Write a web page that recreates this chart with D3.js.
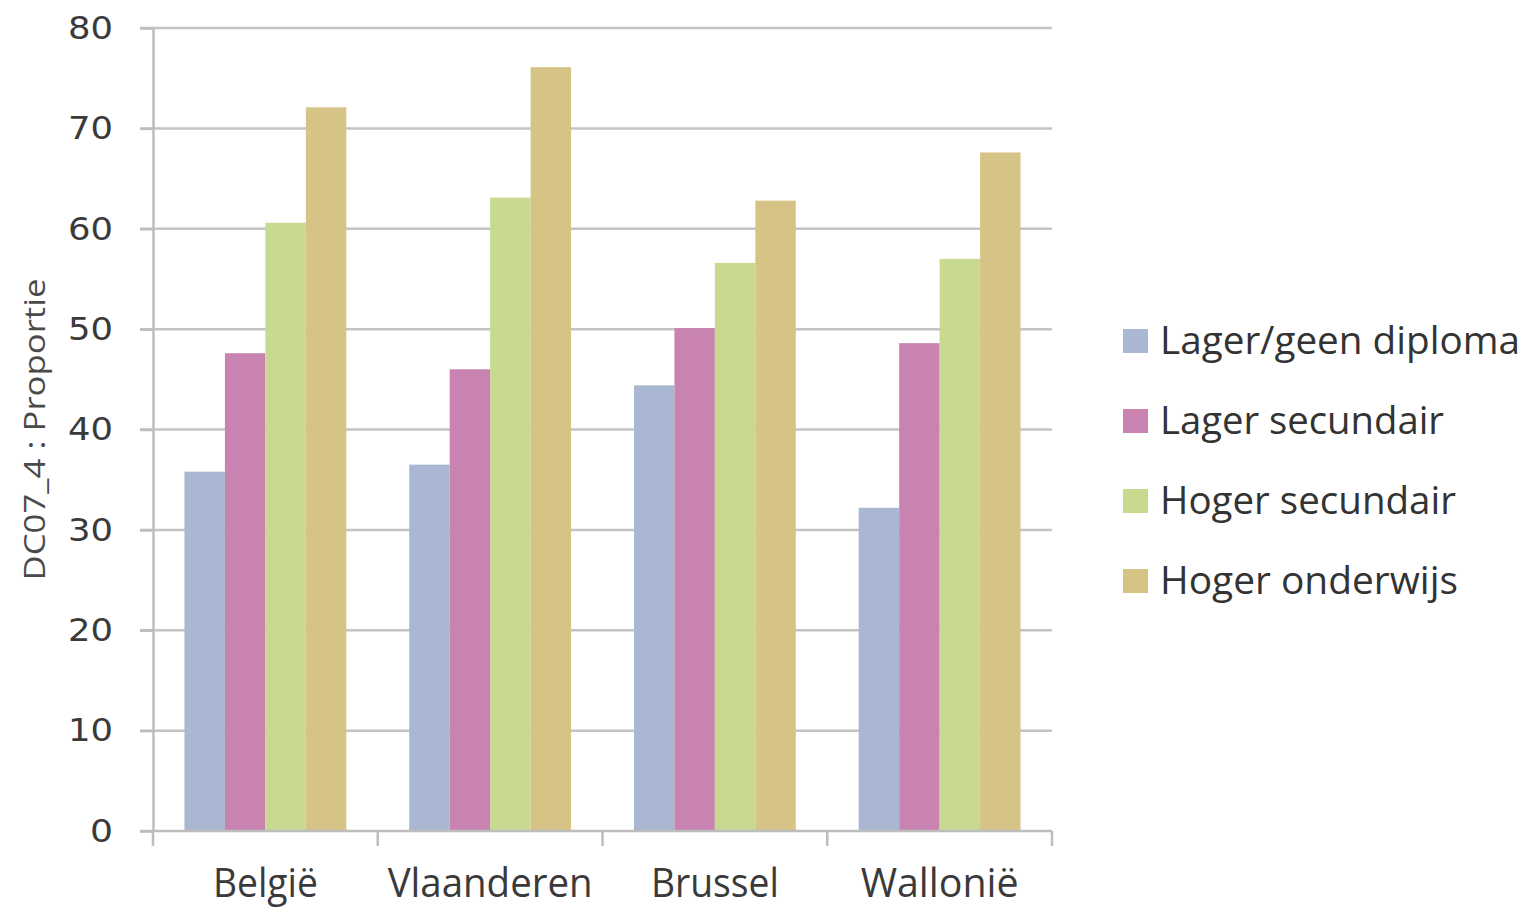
<!DOCTYPE html>
<html>
<head>
<meta charset="utf-8">
<script src="https://cdn.jsdelivr.net/npm/d3@7"></script>
<style>
  html, body { margin: 0; padding: 0; background: #ffffff; }
  svg { display: block; }
</style>
</head>
<body>
<svg id="chart" width="1529" height="911"></svg>
<script>
// Regions and education levels
const regions = ["België", "Vlaanderen", "Brussel", "Wallonië"];
const levels = ["Lager/geen diploma", "Lager secundair", "Hoger secundair", "Hoger onderwijs"];

// Proportion per education level, one value per region
const lagerGeen   = [35.8, 36.5, 44.4, 32.2];
const lagerSec    = [47.6, 46.0, 50.1, 48.6];
const hogerSec    = [60.6, 63.1, 56.6, 57.0];
const hogerOnd    = [72.1, 76.1, 62.8, 67.6];
const seriesValues = [lagerGeen, lagerSec, hogerSec, hogerOnd];

const levelColors = ["#a9b7d2", "#c983b0", "#c7da90", "#d6c487"];
const yTicks = [0, 10, 20, 30, 40, 50, 60, 70, 80];
const yTitle = "DC07_4 : Proportie";

const svg = d3.select("#chart");
const plotLeft = 153, plotRight = 1052, plotTop = 28, plotBottom = 831;

const x = d3.scaleBand().domain(regions).range([plotLeft, plotRight]).paddingInner(0.28).paddingOuter(0.14);
const xs = d3.scaleBand().domain(levels).range([0, x.bandwidth()]).padding(0);
const y = d3.scaleLinear().domain([0, 80]).range([plotBottom, plotTop]);
const color = d3.scaleOrdinal().domain(levels).range(levelColors);

// Horizontal gridlines
svg.append("g")
  .selectAll("line")
  .data(yTicks.filter(d => d > 0))
  .join("line")
  .attr("x1", plotLeft - 13).attr("x2", plotRight)
  .attr("y1", d => y(d)).attr("y2", d => y(d))
  .attr("stroke", "#c4c4c4").attr("stroke-width", 2.5);

// Y axis
const yAxis = svg.append("g")
  .attr("transform", `translate(${plotLeft},0)`)
  .call(d3.axisLeft(y).tickValues(yTicks).tickSize(13).tickPadding(27).tickSizeOuter(0));
yAxis.select(".domain").attr("stroke", "#bdbdbd").attr("stroke-width", 2.5);
yAxis.selectAll(".tick line").attr("stroke", "#bdbdbd").attr("stroke-width", 2.5);
yAxis.selectAll(".tick text")
  .attr("fill", "#3a3a3a")
  .attr("font-family", "DejaVu Sans, Verdana, sans-serif")
  .attr("font-size", 32)
  .attr("textLength", d => d === 0 ? 23 : 45)
  .attr("lengthAdjust", "spacingAndGlyphs");

// Bars
const groups = svg.append("g")
  .selectAll("g")
  .data(regions)
  .join("g")
  .attr("transform", d => `translate(${x(d)},0)`);

groups.selectAll("rect")
  .data((r, ri) => levels.map((l, li) => ({ level: l, value: seriesValues[li][ri] })))
  .join("rect")
  .attr("x", d => xs(d.level))
  .attr("width", xs.bandwidth())
  .attr("y", d => y(d.value))
  .attr("height", d => y(0) - y(d.value))
  .attr("fill", d => color(d.level));

// X axis with ticks between categories
const xTickPos = [plotLeft].concat(regions.map(r => x(r) + x.bandwidth() + x.step() * x.paddingInner() / 2));
xTickPos[xTickPos.length - 1] = plotRight;
const xAxis = svg.append("g");
xAxis.append("line")
  .attr("x1", plotLeft - 13).attr("x2", plotRight)
  .attr("y1", plotBottom).attr("y2", plotBottom)
  .attr("stroke", "#bdbdbd").attr("stroke-width", 2.5);
xAxis.selectAll("line.tick")
  .data(xTickPos)
  .join("line")
  .attr("class", "tick")
  .attr("x1", d => d).attr("x2", d => d)
  .attr("y1", plotBottom).attr("y2", plotBottom + 15)
  .attr("stroke", "#bdbdbd").attr("stroke-width", 2.5);

const catWidths = { "België": 105, "Vlaanderen": 205, "Brussel": 128, "Wallonië": 158 };
xAxis.selectAll("text")
  .data(regions)
  .join("text")
  .attr("x", d => x(d) + x.bandwidth() / 2)
  .attr("y", 897)
  .attr("text-anchor", "middle")
  .attr("fill", "#3a3a3a")
  .attr("font-family", "Open Sans, sans-serif")
  .attr("font-size", 40)
  .attr("textLength", d => catWidths[d])
  .attr("lengthAdjust", "spacingAndGlyphs")
  .text(d => d);

// Y axis title
svg.append("text")
  .attr("transform", `translate(45,${(plotTop + plotBottom) / 2}) rotate(-90)`)
  .attr("text-anchor", "middle")
  .attr("fill", "#4a4a4a")
  .attr("font-family", "Open Sans, sans-serif")
  .attr("font-size", 29)
  .attr("textLength", 302)
  .attr("lengthAdjust", "spacingAndGlyphs")
  .text(yTitle);

// Legend
const legendWidths = [360, 284, 296, 298];
const legend = svg.append("g")
  .selectAll("g")
  .data(levels)
  .join("g")
  .attr("transform", (d, i) => `translate(1123,${341 + i * 80})`);
legend.append("rect")
  .attr("x", 0).attr("y", -12)
  .attr("width", 25).attr("height", 24)
  .attr("fill", d => color(d));
legend.append("text")
  .attr("x", 37).attr("y", 13)
  .attr("fill", "#333333")
  .attr("font-family", "Open Sans, sans-serif")
  .attr("font-size", 39)
  .attr("textLength", (d, i) => legendWidths[i])
  .attr("lengthAdjust", "spacingAndGlyphs")
  .text(d => d);
</script>
</body>
</html>
